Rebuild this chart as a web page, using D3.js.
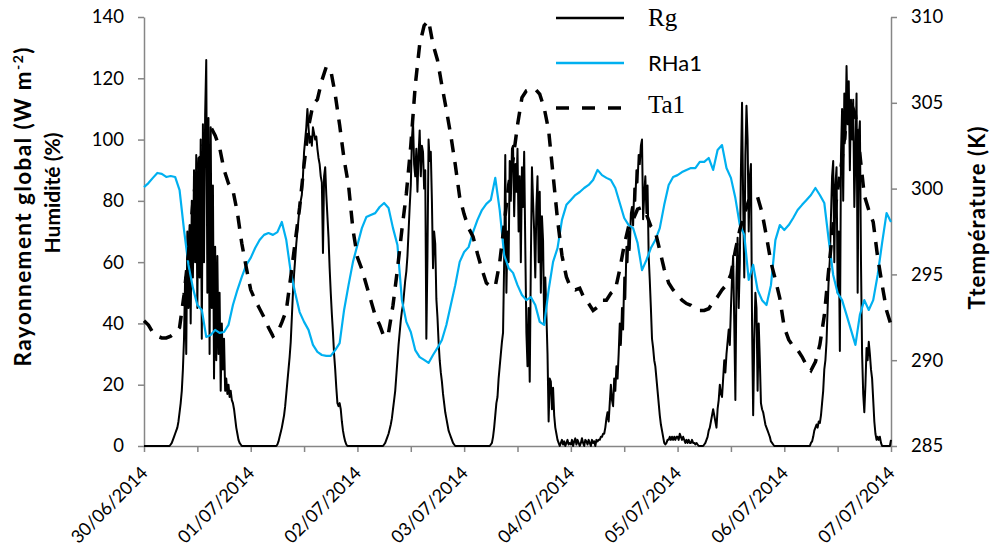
<!DOCTYPE html>
<html><head><meta charset="utf-8">
<script src="https://cdn.jsdelivr.net/npm/d3@7"></script>
<style>body{margin:0;background:#fff}svg{display:block}</style>
</head><body><svg id="c" width="994" height="548"></svg>
<script>
// ---- data ----
const dayLabels = ["30/06/2014","01/07/2014","02/07/2014","03/07/2014","04/07/2014","05/07/2014","06/07/2014","07/07/2014"];
const leftTicks = [0,20,40,60,80,100,120,140];
const rightTicks = [285,290,295,300,305,310];
const hourTicks = [0,12,24,36,48,60,72,84,96,108,120,132,144,156,168];

// Rg (W m-2), every 15 minutes, one array per day (96 values each)
const rgDay0 = [
 0,0,0,0,0,0,0,0,0,0,0,0,0,0,0,0,0,0,0,0,0,0,0,0,
 0.5,1,2,3,4,5,6,8,11,14,18,25,35,55,30,70,45,72,40,80,55,90,60,95,
 45,94,55,100,35,105,60,108,126,50,107,30,104,45,85,22,65,28,62,30,50,18,40,25,
 35,18,22,17,20,16,18,15,14,12,9,6,4,2,1,0.5,0,0,0,0,0,0,0,0
];
const rgDay1 = [
 0,0,0,0,0,0,0,0,0,0,0,0,0,0,0,0,0,0,0,0,0,0,0,0,
 0.5,1.5,3,4.5,6,8,10,13,17,21,25,29,34,42,50,56,61,66,70,74,78,80,82,88,
 96,100,104,110,104,99,101,98,104,102,100,101,97,94,92,88,86,63,88,91,82,75,68,58,
 50,43,37,30,25,19,14,13,14,12,8,5,3,1.5,0.5,0,0,0,0,0,0,0,0,0
];
const rgDay2 = [
 0,0,0,0,0,0,0,0,0,0,0,0,0,0,0,0,0,0,0,0,0,0,0,0,
 0.5,1,2,3,4,5.5,7,9,12,15,18,23,28,33,37,41,44,46,50,54,57,62,70,78,
 85,100,106,92,88,97,83,95,103,88,98,96,84,90,35,62,100,93,96,80,58,70,66,48,
 42,34,28,24,21,17,14,11,9,7,5,4,3,2,1,0.5,0,0,0,0,0,0,0,0
];
const rgDay3 = [
 0,0,0,0,0,0,0,0,0,0,0,0,0,0,0,0,0,0,0,0,0,0,0,0,
 0.5,1,3,6,10,14,16,22,26,30,34,37,60,95,50,70,60,93,80,97,98,75,92,83,
 97,70,88,60,91,78,96,65,37,26,45,21,60,91,80,70,55,78,88,60,83,50,75,67,
 40,55,43,30,8,22,21,12,19,10,6,4,2,1,0,1,2,0.5,1.5,0,1,2,0.5,1
];
const rgDay4 = [
 0.5,2,0,1.5,2.5,0.5,2,1,0,1,2.5,1,0,2,1.5,0.5,2,1,0,2,1,1.5,0,2,
 1.5,2,2,3,3,4,4,6,9,11,8,14,20,15,13,22,18,26,22,30,40,33,45,38,
 55,48,65,60,70,64,76,78,72,84,80,90,86,95,92,98,100,74,82,88,76,85,62,54,
 45,35,32,28,26,22,18,14,10,7,5,3,1,0.5,1,2,2,3,2,3,2,3,2,3
];
const rgDay5 = [
 3,2,4,3,2,3,2,1,2,1,2,1,1,2,1,1,0.5,1,0.5,0,0,0,0,0,
 0.5,1,2,3,5,6,8,10,12,10,8,6,12,15,20,17,16,22,28,24,30,34,38,33,
 45,55,62,40,15,55,68,45,60,90,112,80,55,95,111,100,70,88,92,40,10,35,50,45,
 18,40,28,14,12,11,9,7,6,5,4,3,1.5,1,0.5,0,0,0,0,0,0,0,0,0
];
const rgDay6 = [
 0,0,0,0,0,0,0,0,0,0,0,0,0,0,0,0,0,0,0,0,0,0,0,0,
 1,1.5,3,5,6,7,6,8,7.5,10,14,18,25,28,34,45,55,61,75,88,93,60,85,91,
 50,70,31,95,110,80,115,100,124,105,119,90,113,100,113,78,95,115,50,100,106,60,30,17,
 11,20,32,28,34,30,25,22,15,8,4,2,3,2,3,1,0,0,0,0,0,0,0,0
];
const rgEnd = [2]; // 07/07/2014 00:00

// RHa1 (%), hourly
const rh = [
 84.5,85.8,87.5,89.1,88.8,87.8,88.1,87.8,83.5,70.5,59.1,51.6,46.0,44.4,35.6,36.2,37.9,36.9,37.2,39.5,46.0,50.9,55.2,59.1,61.4,
 64.6,67.2,68.9,69.5,68.9,69.8,73.1,67.2,56.8,49.9,43.7,40.5,37.9,33.0,30.7,29.7,29.4,29.4,31.3,33.6,44.4,52.5,60.1,65.6,
 71.1,74.7,75.4,76.0,78.0,79.3,77.7,71.1,65.6,47.6,40.5,37.2,31.3,29.0,28.1,27.1,29.7,32.0,34.6,39.5,46.0,52.5,60.1,63.3,
 64.9,69.8,73.8,77.0,79.0,80.3,87.5,77.0,62.3,58.1,56.5,52.5,49.3,47.6,48.6,46.0,40.5,39.5,50.9,60.1,64.6,73.8,78.7,80.3,
 81.9,82.9,84.2,85.2,86.8,90.1,88.4,87.5,86.8,84.2,79.3,74.4,72.1,71.1,66.3,57.4,60.7,64.6,67.2,71.1,78.7,85.2,87.8,88.4,
 89.4,90.1,90.7,90.7,92.7,92.7,94.0,90.1,96.6,98.2,90.7,87.5,80.9,72.1,68.9,54.2,59.1,50.9,47.6,46.0,52.5,67.2,72.1,70.5,
 72.1,74.4,77.0,78.7,80.3,81.9,84.2,81.9,79.3,67.2,55.8,49.9,47.6,42.8,37.9,33.0,42.8,47.6,44.4,47.6,55.8,66.3,76.0,73.1
];

// Ta1 (K), hourly
const ta = [
 292.3,292.05,291.6,291.4,291.3,291.3,291.4,291.6,291.9,293.8,296.25,299.2,301.1,302.25,303.1,303.6,303.1,302.4,301.1,300.3,299.9,298.6,296.8,295.4,294.1,
 293.5,293.0,292.5,291.9,291.4,291.6,292.2,292.9,294.85,296.9,298.9,301.4,303.6,304.9,305.2,306.3,307.1,306.9,305.5,303.7,301.7,300.2,297.6,296.0,
 295.3,294.4,293.5,292.6,292.05,291.35,291.6,293.2,295.3,297.6,299.7,302.5,306.0,308.4,309.5,309.8,308.4,307.5,306.0,304.6,303.1,301.4,299.5,298.5,
 297.7,297.2,296.2,295.3,294.5,294.3,294.3,295.7,297.9,300.2,301.7,303.7,305.3,305.7,305.8,305.8,305.5,304.7,303.4,300.8,298.2,296.1,294.85,294.2,
 294.1,294.2,293.6,293.3,292.9,293.1,293.5,293.5,293.9,294.1,295.3,296.7,297.8,298.2,298.8,298.9,298.5,297.8,297.5,296.4,295.3,294.5,294.1,293.8,
 293.5,293.3,293.2,293.0,292.9,292.9,293.0,293.4,293.7,294.1,294.4,295.0,296.4,297.6,298.5,299.3,299.6,299.5,298.6,297.2,295.7,294.7,293.6,291.9,
 291.2,290.8,290.6,290.2,289.7,289.4,289.9,290.9,292.6,295.3,297.9,299.9,301.7,304.0,305.0,304.3,302.0,299.6,298.75,298.05,296.0,294.4,292.9,292.05
];

// ---- chart ----
const W = 994, H = 548;
const rg = [].concat(rgDay0, rgDay1, rgDay2, rgDay3, rgDay4, rgDay5, rgDay6, rgEnd);

const svg = d3.select("#c");
svg.append("rect").attr("width", W).attr("height", H).attr("fill", "#fff");

const x = d3.scaleLinear().domain([0, 168]).range([144, 891]);
const yL = d3.scaleLinear().domain([0, 140]).range([446, 17]);
const yR = d3.scaleLinear().domain([285, 310]).range([446, 17]);

const axisColor = "#868686";
const tickFont = "Lato, 'Open Sans', sans-serif";

function styleAxis(g) {
  g.selectAll(".domain").attr("stroke", axisColor).attr("stroke-width", 1.5);
  g.selectAll(".tick line").attr("stroke", axisColor).attr("stroke-width", 1.5);
  g.selectAll(".tick text").attr("fill", "#000").style("font-family", tickFont).style("font-size", "18.5px");
}

const gx = svg.append("g").attr("transform", "translate(0,446)")
  .call(d3.axisBottom(x).tickValues(hourTicks).tickSize(6).tickSizeOuter(0).tickFormat(""));
styleAxis(gx);

const gl = svg.append("g").attr("transform", "translate(144,0)")
  .call(d3.axisLeft(yL).tickValues(leftTicks).tickSize(6).tickSizeOuter(0).tickPadding(14));
styleAxis(gl);

const gr = svg.append("g").attr("transform", "translate(891,0)")
  .call(d3.axisRight(yR).tickValues(rightTicks).tickSize(6).tickSizeOuter(0).tickPadding(14));
styleAxis(gr);

// date labels
svg.append("g").selectAll("text").data(dayLabels).join("text")
  .attr("transform", (d, i) => `translate(${x(i * 24) + 5},${474}) rotate(-45)`)
  .attr("text-anchor", "end")
  .style("font-family", tickFont).style("font-size", "18px")
  .text(d => d);

// series
const rgLine = d3.line().x((d, i) => x(i * 0.25)).y(d => yL(d));
const rhLine = d3.line().x((d, i) => x(i)).y(d => yL(d));
const taLine = d3.line().x((d, i) => x(i)).y(d => yR(d));

svg.append("path").datum(rg).attr("d", rgLine)
  .attr("fill", "none").attr("stroke", "#000").attr("stroke-width", 2).attr("stroke-linejoin", "round");
svg.append("path").datum(rh).attr("d", rhLine)
  .attr("fill", "none").attr("stroke", "#00B0F0").attr("stroke-width", 2.2).attr("stroke-linejoin", "round");
svg.append("path").datum(ta).attr("d", taLine)
  .attr("fill", "none").attr("stroke", "#000").attr("stroke-width", 3.5).attr("stroke-dasharray", "13,10");

// legend
const serif = "'Liberation Serif', 'Times New Roman', serif";
const leg = svg.append("g");
const legItems = [
  {name: "Rg", y: 18, color: "#000", w: 2.5, dash: null, font: serif, size: 25, ty: 26},
  {name: "RHa1", y: 63, color: "#00B0F0", w: 2.5, dash: null, font: tickFont, size: 22, ty: 71},
  {name: "Ta1", y: 108, color: "#000", w: 3.5, dash: "13,13", font: serif, size: 25, ty: 113}
];
legItems.forEach(it => {
  leg.append("line").attr("x1", 556).attr("x2", 624).attr("y1", it.y).attr("y2", it.y)
    .attr("stroke", it.color).attr("stroke-width", it.w).attr("stroke-dasharray", it.dash);
  leg.append("text").attr("x", 648).attr("y", it.ty).text(it.name)
    .style("font-family", it.font).style("font-size", it.size + "px");
});

// axis titles
const titleFont = "Lato, 'Open Sans', sans-serif";
const t1 = svg.append("text").attr("transform", "translate(31,207) rotate(-90)")
  .attr("text-anchor", "middle").attr("textLength", 319).attr("lengthAdjust", "spacing")
  .style("font-family", titleFont).style("font-weight", "bold").style("font-size", "22.5px");
t1.append("tspan").text("Rayonnement global (W m");
t1.append("tspan").text("-2").attr("baseline-shift", "super").style("font-size", "14px");
t1.append("tspan").text(")");
svg.append("text").attr("transform", "translate(60,193) rotate(-90)")
  .attr("text-anchor", "middle")
  .style("font-family", titleFont).style("font-weight", "bold").style("font-size", "21px")
  .text("Humidité (%)");
svg.append("text").attr("transform", "translate(985,218) rotate(-90)")
  .attr("text-anchor", "middle").attr("textLength", 183).attr("lengthAdjust", "spacing")
  .style("font-family", titleFont).style("font-weight", "bold").style("font-size", "22px")
  .text("Ttempérature (K)");
</script>
</body></html>
